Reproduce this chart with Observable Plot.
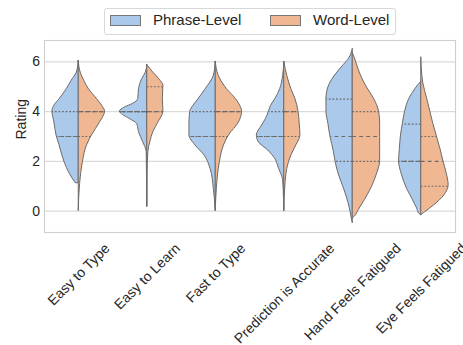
<!DOCTYPE html>
<html>
<head>
<meta charset="utf-8">
<script src="https://cdn.jsdelivr.net/npm/d3@7"></script>
<script src="https://cdn.jsdelivr.net/npm/@observablehq/plot@0.6"></script>
<style>
  html, body { margin: 0; padding: 0; background: #fff; }
  #wrap { position: relative; width: 463px; height: 345px; font-family: "Liberation Sans", Arial, sans-serif; color: #262626; }
  #legend { position: absolute; left: 104px; top: 8px; width: 290px; height: 25px; border: 1px solid #d8d8d8; border-radius: 3px; background: #fff; }
  .sw { position: absolute; top: 6px; width: 29px; height: 9px; border: 1px solid #777; }
  .lt { position: absolute; top: 2px; font-size: 15px; line-height: 18px; white-space: nowrap; }
</style>
</head>
<body>
<div id="wrap"></div>
<script>
// ---- data ----
const categories = ["Easy to Type", "Easy to Learn", "Fast to Type", "Prediction is Accurate", "Hand Feels Fatigued", "Eye Feels Fatigued"];
const hues = ["Phrase-Level", "Word-Level"];
const yTicks = [0, 2, 4, 6];

// [rating, relative density] profiles, one list per category
const phraseDensity = [
  [[6.04,0],[5.57,.07],[5.24,.26],[4.9,.44],[4.5,.70],[4.24,.89],[4.0,.96],[3.57,.89],[3.04,.81],[2.64,.70],[1.97,.52],[1.5,.33],[1.12,.11]],
  [[5.87,0],[5.57,.05],[5.3,.19],[4.9,.30],[4.5,.33],[4.31,.52],[4.17,.81],[4.0,1.0],[3.87,.89],[3.7,.63],[3.5,.37],[3.17,.30],[2.77,.15],[2.37,.02],[1.5,.01],[0.17,0]],
  [[6.0,0],[5.44,.07],[4.9,.37],[4.5,.63],[4.24,.81],[4.0,.93],[3.57,.96],[3.04,.96],[2.64,.74],[2.24,.41],[1.7,.19],[0.9,.07],[0,0]],
  [[6.0,0],[5.44,.04],[4.9,.15],[4.5,.33],[4.24,.48],[4.0,.56],[3.7,.67],[3.44,.81],[3.04,1.0],[2.77,.93],[2.44,.59],[2.1,.33],[1.7,.19],[1.24,.04],[0.5,.01],[0,0]],
  [[6.51,0],[6.17,.11],[5.77,.41],[5.37,.70],[4.97,.89],[4.51,.96],[4.0,.96],[3.51,.89],[2.97,.81],[2.44,.70],[2.0,.63],[1.51,.52],[0.84,.30],[0.31,.15],[-0.09,.07],[-0.49,0]],
  [[5.2,0],[4.9,.22],[4.5,.44],[4.0,.59],[3.51,.67],[3.04,.74],[2.5,.78],[2.0,.81],[1.44,.70],[0.9,.52],[0.5,.33],[0.1,.15],[-0.11,.07],[-0.17,0]]
];
const wordDensity = [
  [[6.04,0],[5.57,.07],[5.24,.2],[4.9,.37],[4.5,.67],[4.24,.85],[4.0,.96],[3.57,.78],[3.04,.48],[2.64,.30],[1.97,.15],[1.1,.05],[0,0]],
  [[5.87,0],[5.57,.22],[5.3,.44],[5.04,.59],[4.5,.57],[4.0,.59],[3.57,.41],[3.17,.22],[2.77,.11],[2.37,.04],[1.5,.01],[0.17,0]],
  [[6,0],[5.44,.11],[4.9,.41],[4.5,.74],[4.24,.89],[4.0,.96],[3.57,.85],[3.04,.48],[2.64,.30],[1.97,.15],[0.9,.04],[0,0]],
  [[6,0],[5.44,.11],[4.9,.26],[4.5,.41],[4.0,.52],[3.57,.56],[3.04,.59],[2.64,.44],[2.24,.26],[1.7,.11],[1.17,.05],[0,0]],
  [[6.35,0],[6.17,.07],[5.77,.19],[5.37,.33],[4.97,.52],[4.51,.78],[4.0,.96],[3.51,1.0],[2.97,1.0],[2.44,1.0],[2.0,1.0],[1.51,.89],[0.97,.70],[0.44,.44],[0.04,.22],[-0.23,.07],[-0.3,0]],
  [[6.17,0],[5.44,.04],[5.17,.07],[4.5,.22],[4.0,.33],[3.51,.44],[3.04,.56],[2.5,.70],[2.0,.81],[1.51,.93],[1.04,1.0],[0.64,.85],[0.24,.48],[-0.04,.15],[-0.13,.04],[-0.17,0]]
];
// [q25, median, q75] per category
const phraseQuartiles = [[3,3,4],[4,4,4],[3,3,4],[3,3,4],[2,3,4.5],[2,2,3.5]];
const wordQuartiles   = [[3,4,4],[4,4,5],[3,4,4],[3,4,4],[2,3,4],[1,2,3]];

// ---- styling ----
const colors = ["#abc9ea", "#efb792"];
const edge = "#6b6b6b";
const W = 463, H = 345, ML = 44, MR = 8, MT = 40, MB = 113;
const halfWidth = 0.4;
const font = "'Liberation Sans', Arial, sans-serif";
const fs = 14;

// ---- build tables ----
const rows = [];
const qRows = [];
function widthAt(prof, q) {
  for (let k = 0; k < prof.length - 1; k++) {
    const [r0, w0] = prof[k], [r1, w1] = prof[k + 1];
    if (q <= r0 && q >= r1) return w0 + (w1 - w0) * (r0 - q) / (r0 - r1);
  }
  return 0;
}
[[phraseDensity, phraseQuartiles], [wordDensity, wordQuartiles]].forEach(([dens, quarts], h) => {
  dens.forEach((prof, i) => {
    const side = h === 0 ? -1 : 1;
    prof.forEach(([r, w]) => rows.push({cat: categories[i], hue: hues[h], i, side, r, w}));
    quarts[i].forEach((q, k) => qRows.push({i, side, q, w: widthAt(prof, q), median: k === 1}));
  });
});

const ctx = document.createElement("canvas").getContext("2d");
ctx.font = `${fs}px 'Liberation Sans'`;
const pxPerCat = (W - ML - MR) / categories.length;
const c45 = Math.SQRT1_2;

const chart = Plot.plot({
  width: W, height: H,
  marginLeft: ML, marginRight: MR, marginTop: MT, marginBottom: MB,
  style: {fontFamily: font, fontSize: fs + "px", color: "#262626", background: "transparent"},
  x: {domain: [0, categories.length], axis: null},
  y: {domain: [-0.86, 6.86], axis: null},
  color: {domain: hues, range: colors},
  marks: [
    Plot.gridY(yTicks, {stroke: "#dadada", strokeOpacity: 1, strokeWidth: 1.1}),
    Plot.frame({stroke: "#cfcfcf", strokeWidth: 1.1}),
    Plot.areaX(rows, {
      y: "r",
      x1: d => d.i + 0.5,
      x2: d => d.i + 0.5 + d.side * halfWidth * d.w,
      z: d => d.cat + "|" + d.hue,
      fill: "hue", stroke: edge, strokeWidth: 1, curve: "monotone-y"
    }),
    Plot.ruleY(qRows.filter(d => !d.median), {
      y: "q", x1: d => d.i + 0.5, x2: d => d.i + 0.5 + d.side * halfWidth * d.w,
      stroke: edge, strokeWidth: 1.2, strokeDasharray: "1.8,1.8"
    }),
    Plot.ruleY(qRows.filter(d => d.median), {
      y: "q", x1: d => d.i + 0.5, x2: d => d.i + 0.5 + d.side * halfWidth * d.w,
      stroke: edge, strokeWidth: 1.2, strokeDasharray: "3.8,3.2"
    }),
    Plot.text(yTicks, {
      y: d => d, text: d => String(d), frameAnchor: "left", dx: -4.5,
      textAnchor: "end", fontSize: fs, fill: "#262626"
    }),
    Plot.text(["Rating"], {
      frameAnchor: "left", dx: -23, dy: 3, rotate: -90, fontSize: fs, fill: "#262626"
    }),
    Plot.text(categories, {
      x: (d, i) => i + 0.5 + (ctx.measureText(d).width * c45 / 2) / pxPerCat,
      frameAnchor: "bottom", dy: 13.5, rotate: -45,
      textAnchor: "end", lineAnchor: "middle", fontSize: fs, fill: "#262626"
    })
  ]
});

const wrap = document.getElementById("wrap");
wrap.appendChild(chart);
chart.style.position = "absolute"; chart.style.left = "0"; chart.style.top = "0";

const legend = document.createElement("div");
legend.id = "legend";
legend.innerHTML =
  `<div class="sw" style="left:5px;background:${colors[0]}"></div><span class="lt" style="left:48px">${hues[0]}</span>` +
  `<div class="sw" style="left:165px;background:${colors[1]}"></div><span class="lt" style="left:208px">${hues[1]}</span>`;
wrap.appendChild(legend);
</script>
</body>
</html>
